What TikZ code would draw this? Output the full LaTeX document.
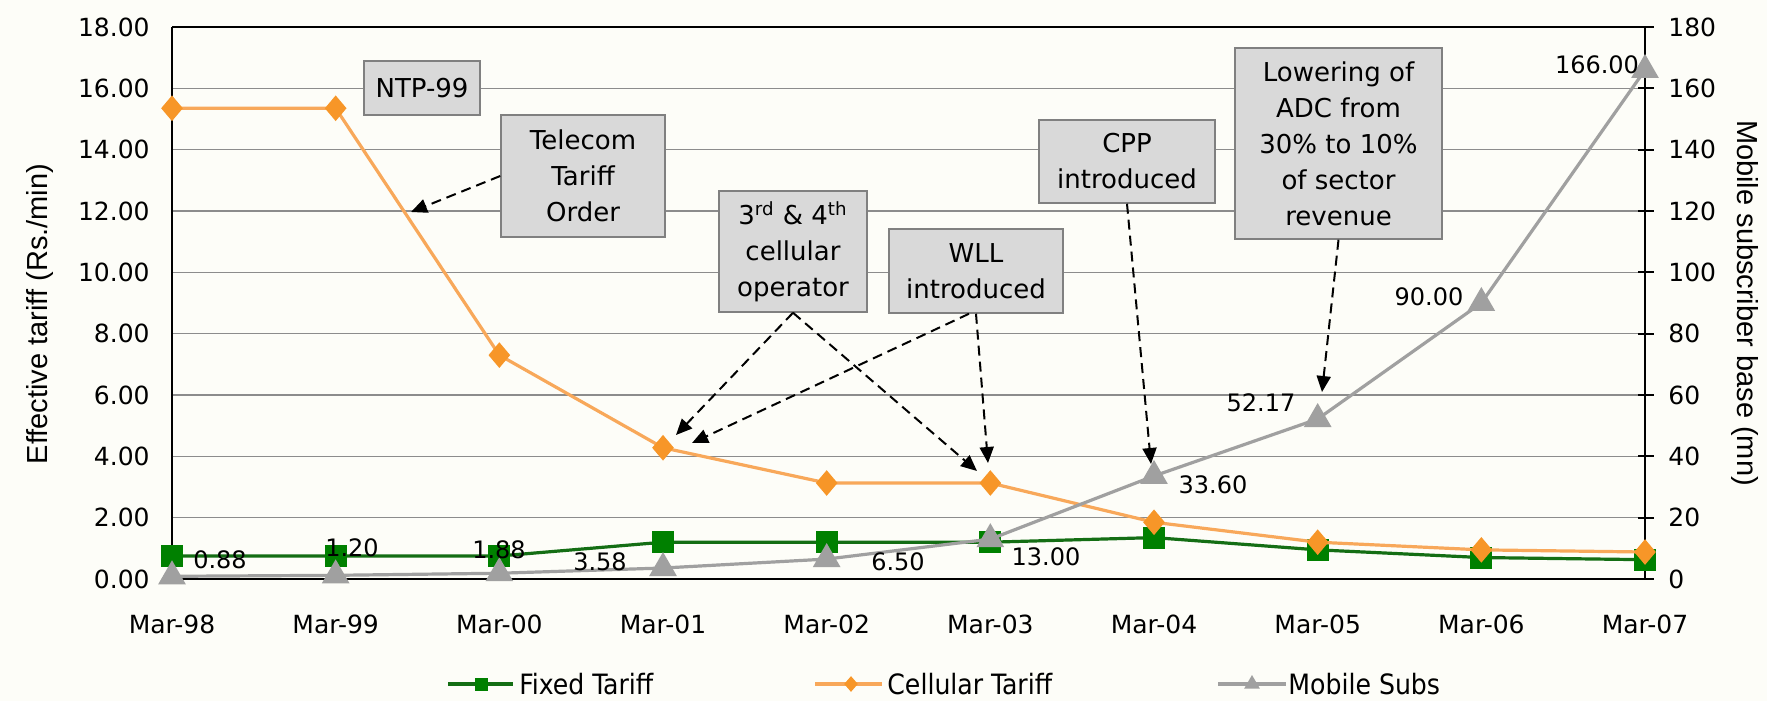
\documentclass[tikz,border=0pt]{standalone}
\usepackage{fontspec}
\setmainfont{DejaVu Sans}
\newfontfamily\titlefont{Liberation Sans}
\newfontfamily\condfont{DejaVu Sans Condensed}
\usetikzlibrary{shapes.geometric,arrows.meta}
\definecolor{bgc}{RGB}{253,253,248}
\definecolor{gridc}{RGB}{140,140,140}
\definecolor{fixline}{RGB}{20,110,20}
\definecolor{fixmark}{RGB}{0,128,0}
\definecolor{cellline}{RGB}{248,168,90}
\definecolor{cellmark}{RGB}{247,150,40}
\definecolor{subsc}{RGB}{160,160,160}
\definecolor{boxfill}{RGB}{217,217,217}
\definecolor{boxdraw}{RGB}{128,128,128}
\tikzset{
 gridline/.style={draw=gridc, line width=0.8pt},
 axisline/.style={draw=black, line width=1pt},
 ticklab/.style={font=\fontsize{12.5}{14}\selectfont, inner sep=0pt},
 datalab/.style={font=\fontsize{12}{14}\selectfont, inner sep=0pt},
 fixl/.style={draw=fixline, line width=1.6pt},
 celll/.style={draw=cellline, line width=1.6pt},
 subl/.style={draw=subsc, line width=1.6pt},
 fixm/.style={rectangle, fill=fixmark, minimum size=11pt, inner sep=0pt},
 cellm/.style={diamond, fill=cellmark, minimum width=11pt, minimum height=13pt, inner sep=0pt},
 subm/.style={regular polygon, regular polygon sides=3, fill=subsc, minimum size=16pt, inner sep=0pt},
 note/.style={rectangle, fill=boxfill, draw=boxdraw, line width=0.75pt, align=center, inner sep=0pt, font=\fontsize{13}{18}\selectfont},
 callout/.style={draw=black, line width=1pt, dash pattern=on 5pt off 3pt, -{Triangle[length=8pt,width=7pt]}},
 legtext/.style={font=\condfont\fontsize{14}{16}\selectfont, anchor=west, inner sep=0pt},
 axtitle/.style={font=\titlefont\fontsize{14.5}{16}\selectfont, inner sep=0pt},
}
\begin{document}
\begin{tikzpicture}[x=0.5pt,y=-0.5pt]
\fill[bgc] (0,0) rectangle (1767,701);
\useasboundingbox (0,0) rectangle (1767,701);
% grid
\foreach \v in {2,4,...,16} \draw[gridline] (172,{579-\v*30.667}) -- (1645,{579-\v*30.667});
\draw[axisline] (172,27) -- (1645,27);
\draw[axisline] (172,579) -- (1645,579);
\draw[axisline] (172,27) -- (172,579);
\draw[axisline] (1645,27) -- (1645,579);
\foreach \k in {0,...,9} \draw[axisline] (1638,{579-\k*61.333}) -- (1654,{579-\k*61.333});
% left labels
\foreach \v in {0,2,...,18} \node[ticklab, anchor=east] (l\v) at (150,{579-\v*30.667}) {\v.00};
% right labels
\foreach \k in {0,...,9} {\pgfmathtruncatemacro\lab{\k*20}
 \node[ticklab, anchor=west] (r\k) at (1668,{579-\k*61.333}) {\lab};}
% x labels
\foreach \i/\t in {0/98,1/99,2/00,3/01,4/02,5/03,6/04,7/05,8/06,9/07}
 \node[ticklab] (x\i) at ({172+\i*163.667},624) {Mar-\t};
% titles
\node[axtitle, rotate=90] (ytl) at (40,314) {Effective tariff (Rs./min)};
\node[axtitle, rotate=-90] (ytr) at (1745,303) {Mobile subscriber base (mn)};
% data coordinates
\begin{scope}[shift={(172,579)}, x=81.8335pt, y=15.3335pt]
 \foreach \i/\v in {0/0.75,1/0.75,2/0.75,3/1.2,4/1.2,5/1.2,6/1.35,7/0.95,8/0.7,9/0.63}
  \coordinate (f\i) at (\i,\v);
 \foreach \i/\v in {0/15.35,1/15.35,2/7.3,3/4.28,4/3.13,5/3.13,6/1.85,7/1.2,8/0.95,9/0.88}
  \coordinate (c\i) at (\i,\v);
\end{scope}
\begin{scope}[shift={(172,579)}, x=81.8335pt, y=1.53335pt]
 \foreach \i/\v in {0/0.88,1/1.2,2/1.88,3/3.58,4/6.5,5/13,6/33.6,7/52.17,8/90,9/166}
  \coordinate (m\i) at (\i,\v);
\end{scope}
% fixed
\draw[fixl] (f0) -- (f1) -- (f2) -- (f3) -- (f4) -- (f5) -- (f6) -- (f7) -- (f8) -- (f9);
\foreach \i in {0,...,9} \node[fixm] (F\i) at (f\i) {};
% cellular
\draw[celll] (c0) -- (c1) -- (c2) -- (c3) -- (c4) -- (c5) -- (c6) -- (c7) -- (c8) -- (c9);
\foreach \i in {0,...,9} \node[cellm] (C\i) at (c\i) {};
% mobile
\draw[subl] (m0) -- (m1) -- (m2) -- (m3) -- (m4) -- (m5) -- (m6) -- (m7) -- (m8) -- (m9);
\foreach \i in {0,...,9} \node[subm] (M\i) at (m\i) {};
% data labels
\node[datalab] (d0) at (220,560) {0.88};
\node[datalab] (d1) at (352,548) {1.20};
\node[datalab] (d2) at (499,550) {1.88};
\node[datalab] (d3) at (600,562) {3.58};
\node[datalab] (d4) at (898,562) {6.50};
\node[datalab] (d5) at (1046,557) {13.00};
\node[datalab] (d6) at (1213,485) {33.60};
\node[datalab] (d7) at (1261,403) {52.17};
\node[datalab] (d8) at (1429,297) {90.00};
\node[datalab] (d9) at (1597,65) {166.00};
% notes
\node[note, minimum width=58pt, minimum height=27pt] (ntp) at (422,88) {NTP-99};
\node[note, minimum width=82pt, minimum height=61pt] (tto) at (583,176) {Telecom\\Tariff\\Order};
\node[note, minimum width=74pt, minimum height=60.5pt] (op) at (793,251.5) {3\textsuperscript{rd} \& 4\textsuperscript{th}\\cellular\\operator};
\node[note, minimum width=87pt, minimum height=42pt] (wll) at (976,271) {WLL\\introduced};
\node[note, minimum width=88pt, minimum height=41.5pt] (cpp) at (1127,161.5) {CPP\\introduced};
\node[note, minimum width=103.5pt, minimum height=95.5pt] (adc) at (1338.5,143.5) {Lowering of\\ADC from\\30\% to 10\%\\of sector\\revenue};
% callouts
\coordinate (ttoT) at (411,212);
\coordinate (opA) at (676,435);
\coordinate (opB) at (977,471);
\coordinate (wllA) at (692,443);
\coordinate (wllB) at (988,463);
\coordinate (cppT) at (1151,464);
\coordinate (adcT) at (1322,392);
\draw[callout] (tto.west) -- (ttoT);
\draw[callout] (op.south) -- (opA);
\draw[callout] (op.south) -- (opB);
\draw[callout] ([xshift=-3.5pt]wll.south) -- (wllA);
\draw[callout] (wll.south) -- (wllB);
\draw[callout] (cpp.south) -- (cppT);
\draw[callout] (adc.south) -- (adcT);
% legend
\coordinate (lf1) at (448,684); \coordinate (lf2) at (513,684);
\draw[fixl] (lf1) -- (lf2);
\node[fixm, minimum size=6.5pt] (lfm) at (481,684) {};
\node[legtext] (lft) at (519,684) {Fixed Tariff};
\coordinate (lc1) at (815,684); \coordinate (lc2) at (882,684);
\draw[celll] (lc1) -- (lc2);
\node[cellm, minimum width=7pt, minimum height=8pt] (lcm) at (851,684) {};
\node[legtext] (lct) at (887,684) {Cellular Tariff};
\coordinate (lm1) at (1218,684); \coordinate (lm2) at (1286,684);
\draw[subl] (lm1) -- (lm2);
\node[subm, minimum size=9pt] (lmm) at (1252,684) {};
\node[legtext] (lmt) at (1288,684) {Mobile Subs};
\end{tikzpicture}
\end{document}
